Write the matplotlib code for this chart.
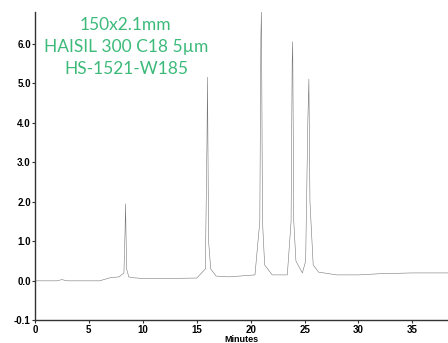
import matplotlib
matplotlib.use("Agg")
import matplotlib.pyplot as plt

# chromatogram trace (minutes, signal)
time = [0, 2.0, 2.5, 3.0, 4.0, 6.0, 7.0, 7.8, 8.25, 8.35, 8.4, 8.5, 8.7, 9.0,
        10.0, 12.0, 15.0, 15.8, 15.95, 16.0, 16.1, 16.3, 16.8, 18.0, 20.4,
        20.85, 20.95, 21.0, 21.1, 21.3, 22.0, 23.4, 23.75, 23.85, 23.9, 24.0,
        24.2, 24.8, 25.1, 25.3, 25.4, 25.5, 25.8, 26.3, 28.0, 30.0, 32.0,
        35.0, 38.3]
signal = [0.0, 0.0, 0.03, 0.0, 0.0, 0.0, 0.08, 0.1, 0.2, 1.2, 1.95, 0.3,
          0.1, 0.08, 0.06, 0.06, 0.07, 0.3, 3.5, 5.15, 1.0, 0.3, 0.12, 0.1,
          0.15, 1.5, 6.2, 6.8, 1.5, 0.4, 0.15, 0.15, 1.5, 5.5, 6.05, 1.5,
          0.5, 0.2, 0.5, 4.0, 5.1, 2.0, 0.4, 0.22, 0.15, 0.15, 0.18, 0.2, 0.2]

yticks = [-1, 0, 1, 2, 3, 4, 5, 6]
ytick_labels = ['-0.1', '0.0', '1.0', '2.0', '3.0', '4.0', '5.0', '6.0']
xticks = [0, 5, 10, 15, 20, 25, 30, 35]

title_lines = ['150x2.1mm', 'HAISIL 300 C18 5µm', 'HS-1521-W185']

fig = plt.figure(figsize=(4.48, 3.43), dpi=100)
ax = fig.add_axes([0.078, 0.066, 0.922, 0.899])

ax.plot(time, signal, color='#777777', lw=0.4)

ax.set_xlim(0, 38.3)
ax.set_ylim(-1, 6.8)
ax.set_yticks(yticks)
ax.set_yticklabels(ytick_labels)
ax.set_xticks(xticks)

for s in ['top', 'right']:
    ax.spines[s].set_visible(False)
for s in ['left', 'bottom']:
    ax.spines[s].set_color('#333333')
    ax.spines[s].set_linewidth(1.0)

ax.tick_params(direction='out', length=2.5, width=0.8, colors='#333333',
               labelsize=7, pad=0.5)
for lab in ax.get_xticklabels() + ax.get_yticklabels():
    lab.set_fontweight('bold')
    lab.set_color('black')
    lab.set_family('Liberation Sans')

ax.set_xlabel('Minutes', fontsize=6.5, fontweight='bold', family='Liberation Sans',
              labelpad=0)

for i, line in enumerate(title_lines):
    fig.text(0.281, 0.928 - i * 0.064, line, ha='center', va='center',
             fontsize=12.5, color='#3dba7a', family='Lato', fontweight='normal')

fig.savefig('out.png', dpi=100)
